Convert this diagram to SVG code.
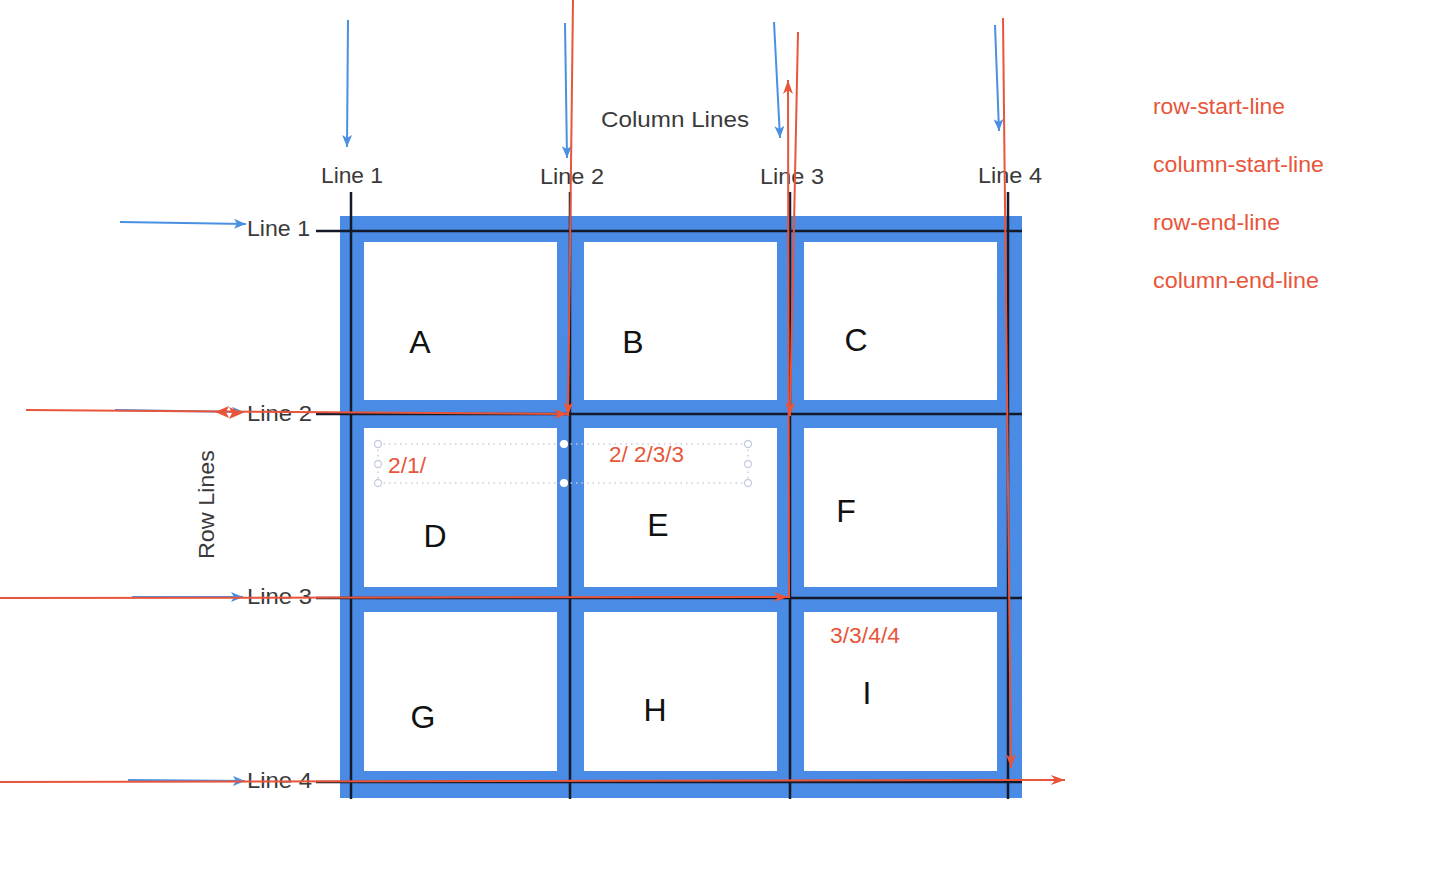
<svg xmlns="http://www.w3.org/2000/svg" width="1450" height="874" viewBox="0 0 1450 874">
<style>
.lbl{font-family:"Liberation Sans",Arial,sans-serif;font-size:22px;fill:#3a3a3a}
.big{font-family:"Liberation Sans",Arial,sans-serif;font-size:32px;fill:#111}
.red{font-family:"Liberation Sans",Arial,sans-serif;font-size:22px;fill:#e8553a}
.leg{font-family:"Liberation Sans",Arial,sans-serif;font-size:22.5px;fill:#e8553a}
.cell{fill:#ffffff}
.grid{stroke:#141a2a;stroke-width:2.5;fill:none}
.blue{stroke:#4a90e2;stroke-width:2;fill:none;marker-end:url(#ab)}
.reda{stroke:#e8553a;stroke-width:2;fill:none;marker-end:url(#ar)}
.dot{stroke:#c5cde0;stroke-width:1.5;stroke-dasharray:1.5 4;fill:none}
.hc{fill:#fff;stroke:#c5cde0;stroke-width:1.3}
.fc{fill:#fff;stroke:none}
</style>
<defs>
<marker id="ab" viewBox="0 0 12 10" refX="12" refY="5" markerWidth="12" markerHeight="10" markerUnits="userSpaceOnUse" orient="auto">
<path d="M0,0 L12,5 L0,10 L3,5 Z" fill="#4a90e2"/>
</marker>
<marker id="ar" viewBox="0 0 14 10" refX="14" refY="5" markerWidth="14" markerHeight="10" markerUnits="userSpaceOnUse" orient="auto">
<path d="M0,0 L14,5 L0,10 L4,5 Z" fill="#e8553a"/>
</marker>
</defs>
<rect width="1450" height="874" fill="#ffffff"/>

<g id="grid-frame">
<rect x="340" y="216" width="682" height="582" fill="#4a8be6"/>
</g>
<g id="cell-A"><rect class="cell" x="364" y="242" width="193" height="158"/><text class="big" x="420" y="353" text-anchor="middle">A</text></g>
<g id="cell-B"><rect class="cell" x="584" y="242" width="193" height="158"/><text class="big" x="633" y="353" text-anchor="middle">B</text></g>
<g id="cell-C"><rect class="cell" x="804" y="242" width="193" height="158"/><text class="big" x="856" y="351" text-anchor="middle">C</text></g>
<g id="cell-D"><rect class="cell" x="364" y="428" width="193" height="159"/><text class="big" x="435" y="547" text-anchor="middle">D</text></g>
<g id="cell-E"><rect class="cell" x="584" y="428" width="193" height="159"/><text class="big" x="658" y="536" text-anchor="middle">E</text></g>
<g id="cell-F"><rect class="cell" x="804" y="428" width="193" height="159"/><text class="big" x="846" y="522" text-anchor="middle">F</text></g>
<g id="cell-G"><rect class="cell" x="364" y="612" width="193" height="159"/><text class="big" x="423" y="728" text-anchor="middle">G</text></g>
<g id="cell-H"><rect class="cell" x="584" y="612" width="193" height="159"/><text class="big" x="655" y="721" text-anchor="middle">H</text></g>
<g id="cell-I"><rect class="cell" x="804" y="612" width="193" height="159"/><text class="big" x="867" y="704" text-anchor="middle">I</text></g>

<g id="grid-lines">
<line class="grid" x1="316" y1="231" x2="1022" y2="231"/>
<line class="grid" x1="316" y1="414" x2="1022" y2="414"/>
<line class="grid" x1="316" y1="598" x2="1022" y2="598"/>
<line class="grid" x1="316" y1="782" x2="1022" y2="782"/>
<line class="grid" x1="351" y1="192" x2="351" y2="799"/>
<line class="grid" x1="570" y1="192" x2="570" y2="799"/>
<line class="grid" x1="790" y1="192" x2="790" y2="799"/>
<line class="grid" x1="1008" y1="192" x2="1008" y2="799"/>
</g>

<g id="labels">
<text class="lbl" x="601" y="127" textLength="148" lengthAdjust="spacingAndGlyphs">Column Lines</text>
<text class="lbl" x="321" y="183" textLength="62" lengthAdjust="spacingAndGlyphs">Line 1</text>
<text class="lbl" x="540" y="184" textLength="64" lengthAdjust="spacingAndGlyphs">Line 2</text>
<text class="lbl" x="760" y="184" textLength="64" lengthAdjust="spacingAndGlyphs">Line 3</text>
<text class="lbl" x="978" y="183" textLength="64" lengthAdjust="spacingAndGlyphs">Line 4</text>
<text class="lbl" x="247" y="236" textLength="63" lengthAdjust="spacingAndGlyphs">Line 1</text>
<text class="lbl" x="247" y="421" textLength="65" lengthAdjust="spacingAndGlyphs">Line 2</text>
<text class="lbl" x="247" y="604" textLength="65" lengthAdjust="spacingAndGlyphs">Line 3</text>
<text class="lbl" x="247" y="788" textLength="65" lengthAdjust="spacingAndGlyphs">Line 4</text>
<text class="lbl" x="0" y="0" transform="translate(214,559) rotate(-90)" textLength="109" lengthAdjust="spacingAndGlyphs">Row Lines</text>
</g>

<g id="selection">
<line class="dot" x1="378" y1="444" x2="748" y2="444"/>
<line class="dot" x1="378" y1="483" x2="748" y2="483"/>
<line class="dot" x1="378" y1="444" x2="378" y2="483"/>
<line class="dot" x1="748" y1="444" x2="748" y2="483"/>
<circle class="hc" cx="378" cy="444" r="3.5"/>
<circle class="hc" cx="378" cy="464" r="3.5"/>
<circle class="hc" cx="378" cy="483" r="3.5"/>
<circle class="hc" cx="748" cy="444" r="3.5"/>
<circle class="hc" cx="748" cy="464" r="3.5"/>
<circle class="hc" cx="748" cy="483" r="3.5"/>
<circle class="fc" cx="564" cy="444" r="4"/>
<circle class="fc" cx="564" cy="483" r="4"/>
</g>

<g id="area-labels">
<text class="red" x="388" y="473" textLength="38" lengthAdjust="spacingAndGlyphs">2/1/</text>
<text class="red" x="609" y="462" textLength="75" lengthAdjust="spacingAndGlyphs">2/ 2/3/3</text>
<text class="red" x="830" y="643" textLength="70" lengthAdjust="spacingAndGlyphs">3/3/4/4</text>
</g>

<g id="legend">
<text class="leg" x="1153" y="114" textLength="132" lengthAdjust="spacingAndGlyphs">row-start-line</text>
<text class="leg" x="1153" y="172" textLength="171" lengthAdjust="spacingAndGlyphs">column-start-line</text>
<text class="leg" x="1153" y="230" textLength="127" lengthAdjust="spacingAndGlyphs">row-end-line</text>
<text class="leg" x="1153" y="288" textLength="166" lengthAdjust="spacingAndGlyphs">column-end-line</text>
</g>

<g id="connectors">
<line class="blue" x1="348" y1="20" x2="347" y2="147"/>
<line class="blue" x1="565" y1="23" x2="567" y2="158"/>
<line class="blue" x1="774" y1="22" x2="780" y2="138"/>
<line class="blue" x1="995" y1="25" x2="999" y2="131"/>
<line class="blue" x1="120" y1="222" x2="246" y2="224"/>
<line class="blue" x1="115" y1="410" x2="244" y2="412"/>
<line class="blue" x1="132" y1="597" x2="243" y2="597"/>
<line class="blue" x1="128" y1="780" x2="245" y2="781"/>

<line class="reda" x1="573" y1="0" x2="568" y2="416"/>
<line class="reda" x1="26" y1="410" x2="568" y2="414"/>
<path d="M243,413 L229,407 L232,413 L229,419 Z" fill="#e8553a"/>
<path d="M215,412 L229,406 L226,412 L229,418 Z" fill="#e8553a"/>
<line class="reda" x1="798" y1="32" x2="790" y2="416"/>
<line class="reda" x1="789" y1="598" x2="788" y2="80"/>
<line class="reda" x1="0" y1="598" x2="788" y2="597"/>
<line class="reda" x1="1003" y1="18" x2="1011" y2="768"/>
<line class="reda" x1="0" y1="782" x2="1065" y2="780"/>
</g>
</svg>
